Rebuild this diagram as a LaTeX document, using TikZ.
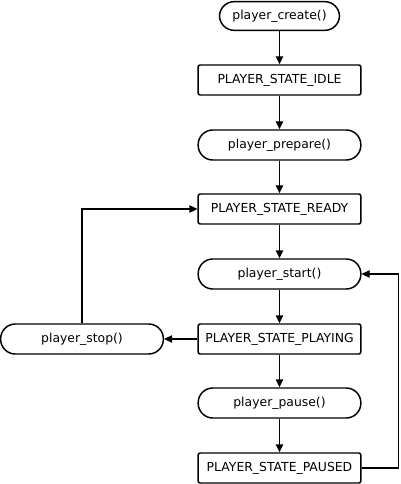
\documentclass[tikz,border=0pt]{standalone}
\usepackage{fontspec}
\setmainfont{DejaVu Sans}
\usetikzlibrary{arrows.meta}
\begin{document}
\begin{tikzpicture}[x=0.75pt,y=-0.75pt,
  base/.style={draw, line width=1.1pt, minimum height=22.5pt, inner sep=0pt, font=\fontsize{9.3}{10}\selectfont, fill=white},
  state/.style={base, rounded corners=1.5pt, minimum width=122pt},
  call/.style={base, rounded corners=11pt, minimum width=122pt},
  conn/.style={line width=1.1pt, -{Triangle[length=6pt,width=5.5pt]}}]
\useasboundingbox (0,0) rectangle (400,484);
\node[call, minimum width=90pt, minimum height=21.5pt] (create) at (279.5,16) {player\_create()};
\node[state] (idle) at (279.5,80) {PLAYER\_STATE\_IDLE};
\node[call] (prepare) at (279.5,145) {player\_prepare()};
\node[state] (ready) at (279.5,209) {PLAYER\_STATE\_READY};
\node[call] (start) at (279.5,274) {player\_start()};
\node[state] (playing) at (279.5,339) {PLAYER\_STATE\_PLAYING};
\node[call] (stop) at (82,339) {player\_stop()};
\node[call] (pause) at (279.5,403) {player\_pause()};
\node[state] (paused) at (279.5,468) {PLAYER\_STATE\_PAUSED};
\draw[conn] (create) -- (idle);
\draw[conn] (idle) -- (prepare);
\draw[conn] (prepare) -- (ready);
\draw[conn] (ready) -- (start);
\draw[conn] (start) -- (playing);
\draw[conn] (playing) -- (pause);
\draw[conn] (pause) -- (paused);
\draw[conn] (playing) -- (stop);
\draw[conn] (stop.north) |- (ready.west);
\coordinate (rt) at (398.5,468);
\draw[conn] (paused.east) -- (rt) |- (start.east);
\end{tikzpicture}
\end{document}
